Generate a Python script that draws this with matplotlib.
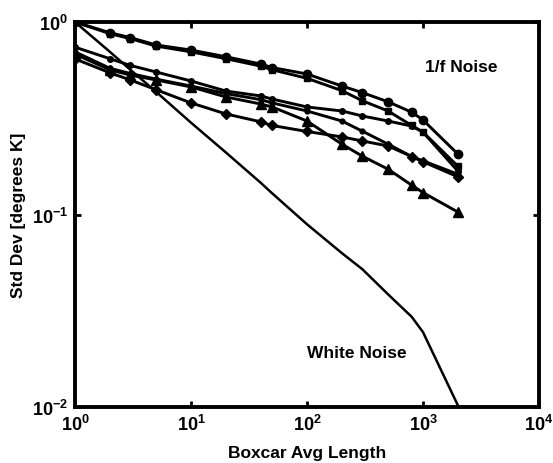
import matplotlib
matplotlib.use("Agg")
import matplotlib.pyplot as plt

plt.rcParams['font.family'] = ['Liberation Sans', 'DejaVu Sans']
plt.rcParams['font.weight'] = 'bold'
plt.rcParams['mathtext.fontset'] = 'custom'
plt.rcParams['mathtext.rm'] = 'Liberation Sans:bold'
plt.rcParams['mathtext.bf'] = 'Liberation Sans:bold'
plt.rcParams['mathtext.it'] = 'Liberation Sans:bold'

# Boxcar averaging lengths
lengths = [1, 2, 3, 5, 10, 20, 40, 50, 100, 200, 300, 500, 800, 1000, 2000]

# 1/f noise series (std dev, degrees K)
series_circle = [1.0, 0.88, 0.83, 0.76, 0.715, 0.66, 0.605, 0.58, 0.537, 0.465, 0.43, 0.385, 0.34, 0.31, 0.206]
series_square = [1.0, 0.87, 0.82, 0.75, 0.70, 0.645, 0.59, 0.565, 0.51, 0.44, 0.39, 0.345, 0.29, 0.268, 0.178]
series_dot = [0.74, 0.645, 0.595, 0.55, 0.494, 0.438, 0.413, 0.398, 0.362, 0.345, 0.325, 0.306, 0.288, 0.268, 0.168]
series_plain = [0.70, 0.575, 0.54, 0.505, 0.465, 0.425, 0.395, 0.38, 0.345, 0.306, 0.271, 0.232, 0.20, 0.19, 0.162]
series_triangle = [0.68, 0.565, 0.53, 0.50, 0.46, 0.408, 0.375, 0.362, 0.306, 0.232, 0.201, 0.172, 0.142, 0.13, 0.103]
series_diamond = [0.643, 0.545, 0.50, 0.445, 0.38, 0.333, 0.303, 0.29, 0.27, 0.253, 0.241, 0.227, 0.20, 0.188, 0.157]

# White noise reference
white_noise = [1.0, 0.70, 0.565, 0.434, 0.30, 0.21, 0.146, 0.129, 0.089, 0.063, 0.052, 0.0385, 0.0294, 0.0245, 0.0102]

x_ticks = [1, 10, 100, 1000, 10000]
x_ticklabels = [r'$10^{0}$', r'$10^{1}$', r'$10^{2}$', r'$10^{3}$', r'$10^{4}$']
y_ticks = [0.01, 0.1, 1]
y_ticklabels = [r'$10^{-2}$', r'$10^{-1}$', r'$10^{0}$']

fig = plt.figure(figsize=(5.53, 4.64), dpi=100)
ax = fig.add_axes([0.1356, 0.1207, 0.839, 0.8297])

lw = 2.1
ax.plot(lengths, white_noise, color='black', lw=1.8)
ax.plot(lengths, series_circle, color='black', lw=lw, marker='o', ms=6)
ax.plot(lengths, series_square, color='black', lw=lw, marker='s', ms=5)
ax.plot(lengths, series_dot, color='black', lw=lw, marker='o', ms=4)
ax.plot(lengths, series_plain, color='black', lw=lw, marker='o', ms=3.5)
ax.plot(lengths, series_triangle, color='black', lw=lw, marker='^', ms=7)
ax.plot(lengths, series_diamond, color='black', lw=lw, marker='D', ms=5)

ax.set_xscale('log')
ax.set_yscale('log')
ax.set_xlim(1, 1e4)
ax.set_ylim(1e-2, 1)
ax.set_xticks(x_ticks)
ax.set_xticklabels(x_ticklabels)
ax.set_yticks(y_ticks)
ax.set_yticklabels(y_ticklabels)
ax.minorticks_off()
ax.tick_params(direction='in', length=4, width=2, labelsize=13,
               top=True, right=True, pad=5)

for sp in ax.spines.values():
    sp.set_linewidth(2.8)

ax.set_xlabel('Boxcar Avg Length', fontsize=12.5, fontweight='bold', labelpad=8)
ax.set_ylabel('Std Dev [degrees K]', fontsize=12.5, fontweight='bold', labelpad=4)

ax.text(2150, 0.585, '1/f Noise', fontsize=12.5, fontweight='bold', ha='center', va='center')
ax.text(270, 0.0193, 'White Noise', fontsize=12.5, fontweight='bold', ha='center', va='center')

fig.savefig('out.png', dpi=100)
